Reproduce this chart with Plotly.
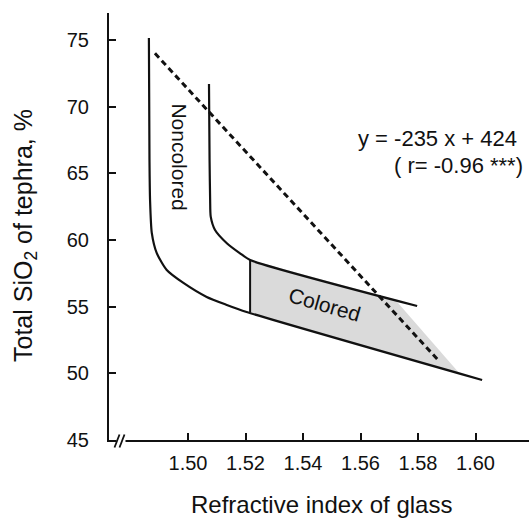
import plotly.graph_objects as go

# ---- data ----
left_x = [1.4864, 1.4866, 1.4868, 1.4874, 1.4891, 1.4926, 1.4984, 1.5065, 1.5135, 1.5204, 1.6023]
left_y = [75.15, 66.0, 63.0, 60.53, 59.03, 57.75, 56.78, 55.73, 55.13, 54.6, 49.5]

right_x = [1.5073, 1.5075, 1.5077, 1.5079, 1.5094, 1.5135, 1.5181, 1.5216, 1.5797]
right_y = [71.7, 66.0, 63.0, 61.75, 60.75, 59.76, 59.0, 58.5, 55.05]

divider_x = [1.5216, 1.5216]
divider_y = [58.5, 54.55]

shade_x = [1.5216, 1.5720, 1.5946, 1.5216]
shade_y = [58.5, 55.54, 49.95, 54.55]

trend_x = [1.4885, 1.5870]
trend_y = [74.0, 51.0]

x_ticks = [1.50, 1.52, 1.54, 1.56, 1.58, 1.60]
x_tick_labels = ["1.50", "1.52", "1.54", "1.56", "1.58", "1.60"]
y_ticks = [45, 50, 55, 60, 65, 70, 75]
y_tick_labels = ["45", "50", "55", "60", "65", "70", "75"]

equation_text = "y = -235 x + 424"
r_text = "( r= -0.96 ***)"
x_title = "Refractive index of glass"
y_title = "Total SiO<sub>2</sub> of tephra, %"

# ---- layout geometry ----
W, H = 529, 518
L, R, T, B = 109, 0, 13, 78
XR = [1.47252, 1.61861]
YR = [45.0, 77.025]

FONT = "Liberation Sans, Arial, Helvetica, sans-serif"
INK = "#111111"


def px_to_paper_x(px):
    return (px - L) / (W - L - R)


def px_to_paper_y(py):
    return (H - B - py) / (H - T - B)


fig = go.Figure()

fig.add_trace(go.Scatter(x=shade_x, y=shade_y, fill="toself", fillcolor="#dadada",
                         line=dict(width=0), mode="lines", hoverinfo="skip"))
fig.add_trace(go.Scatter(x=left_x, y=left_y, mode="lines",
                         line=dict(color=INK, width=2.2, shape="spline", smoothing=0.6)))
fig.add_trace(go.Scatter(x=right_x, y=right_y, mode="lines",
                         line=dict(color=INK, width=2.2, shape="spline", smoothing=0.6)))
fig.add_trace(go.Scatter(x=divider_x, y=divider_y, mode="lines",
                         line=dict(color=INK, width=2)))
fig.add_trace(go.Scatter(x=trend_x, y=trend_y, mode="lines",
                         line=dict(color=INK, width=3, dash="6px,4px")))

shapes = [
    dict(type="rect", xref="paper", yref="paper",
         x0=px_to_paper_x(116.5), x1=px_to_paper_x(125.5),
         y0=px_to_paper_y(443), y1=px_to_paper_y(437),
         fillcolor="white", line=dict(width=0), layer="above"),
    dict(type="line", xref="paper", yref="paper",
         x0=px_to_paper_x(114.5), y0=px_to_paper_y(447.5),
         x1=px_to_paper_x(119.5), y1=px_to_paper_y(434.5),
         line=dict(color=INK, width=1.8), layer="above"),
    dict(type="line", xref="paper", yref="paper",
         x0=px_to_paper_x(119.5), y0=px_to_paper_y(447.5),
         x1=px_to_paper_x(124.5), y1=px_to_paper_y(434.5),
         line=dict(color=INK, width=1.8), layer="above"),
]

annotations = [
    dict(x=1.4972, y=66.2, text="Noncolored", textangle=90, showarrow=False,
         font=dict(family=FONT, size=21, color=INK)),
    dict(x=1.5475, y=55.2, text="Colored", textangle=16, showarrow=False,
         font=dict(family=FONT, size=21, color=INK)),
    dict(x=1.6150, y=67.65, text=equation_text, showarrow=False, xanchor="right",
         font=dict(family=FONT, size=22, color=INK)),
    dict(x=1.6172, y=65.6, text=r_text, showarrow=False, xanchor="right",
         font=dict(family=FONT, size=22, color=INK)),
    dict(xref="paper", yref="paper", x=px_to_paper_x(321), y=px_to_paper_y(504),
         xanchor="center", yanchor="middle",
         text=x_title, showarrow=False,
         font=dict(family=FONT, size=24, color=INK)),
    dict(xref="paper", yref="paper", x=px_to_paper_x(25), y=px_to_paper_y(236),
         xanchor="center", yanchor="middle",
         text=y_title, textangle=-90, showarrow=False,
         font=dict(family=FONT, size=25, color=INK)),
]

fig.update_layout(
    width=W, height=H,
    margin=dict(l=L, r=R, t=T, b=B, pad=0),
    paper_bgcolor="white", plot_bgcolor="white",
    showlegend=False,
    shapes=shapes,
    annotations=annotations,
    font=dict(family=FONT, size=19, color=INK),
)
fig.update_xaxes(range=XR, showgrid=False, zeroline=False, showline=True,
                 linecolor=INK, linewidth=2, ticks="inside", ticklen=7, tickwidth=2,
                 tickcolor=INK, tickvals=x_ticks, ticktext=x_tick_labels,
                 ticklabelstandoff=4, tickfont=dict(family=FONT, size=20, color=INK))
fig.update_yaxes(range=YR, showgrid=False, zeroline=False, showline=True,
                 linecolor=INK, linewidth=2, ticks="inside", ticklen=7, tickwidth=2,
                 tickcolor=INK, tickvals=y_ticks, ticktext=y_tick_labels,
                 ticklabelstandoff=14, tickfont=dict(family=FONT, size=20, color=INK))

fig.write_html("out.html")
